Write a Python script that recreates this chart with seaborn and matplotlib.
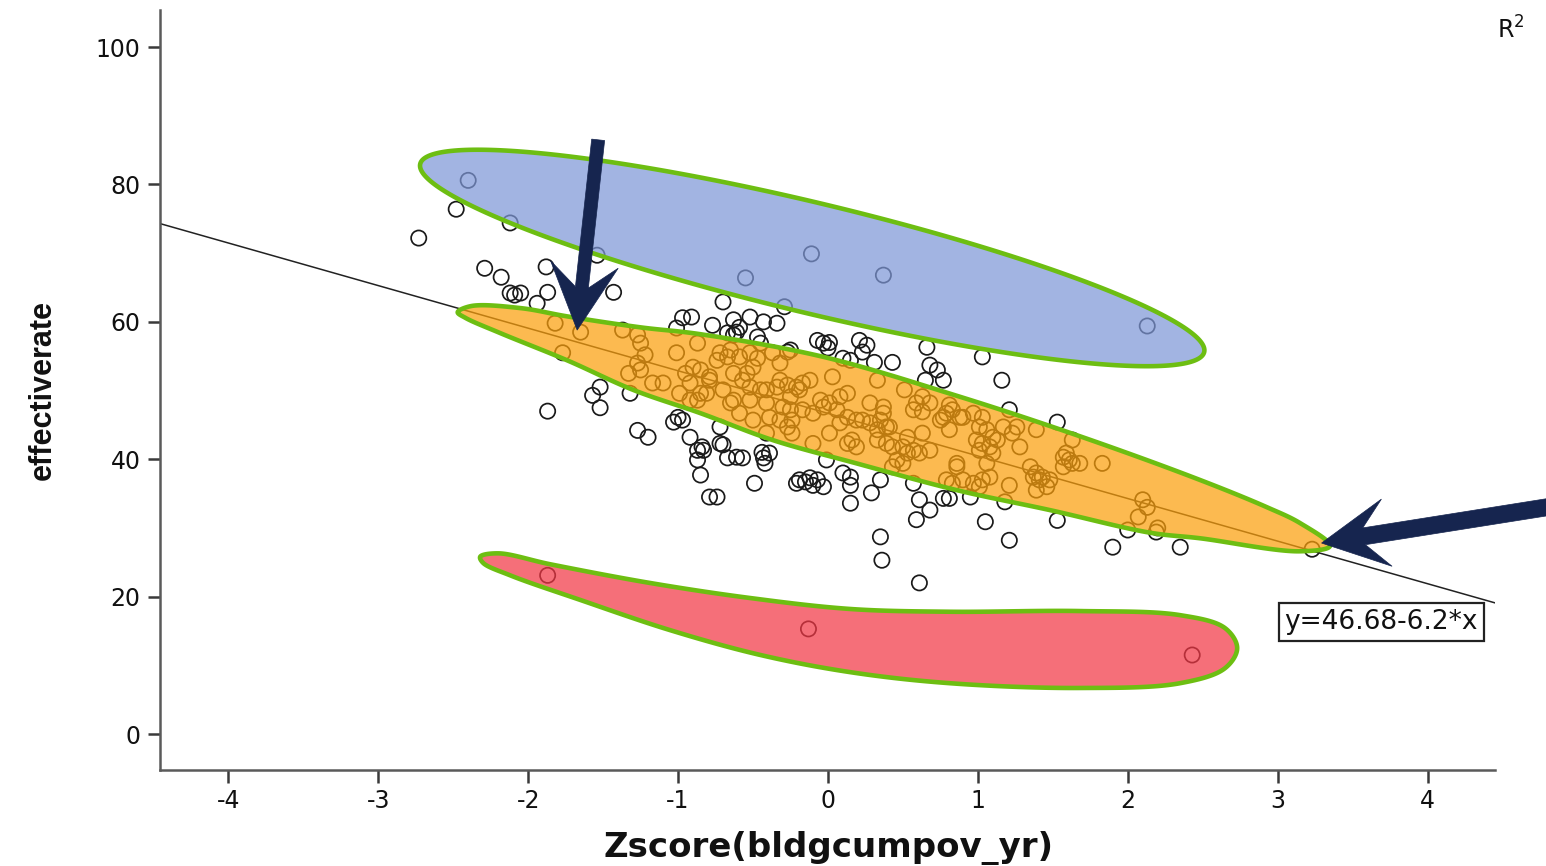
import numpy as np
import pandas as pd
import matplotlib
matplotlib.use("Agg")
import matplotlib.pyplot as plt
from matplotlib.patches import Polygon
import seaborn as sns

# ---------------- data ----------------
zscore = [
    # above the main cloud
    -2.73, -2.48, -2.29, -2.18, -1.88, -2.12, -2.09, -2.05, -1.87, -1.94, -1.43, -0.97,
    -1.01, -0.91, -0.77, -0.70, -0.63, -0.59, -0.52, -0.43, -0.34, -0.63, -0.61, -0.67,
    -0.47, -0.45, -0.27, -0.25, -0.07, -0.03, 0.01, 0.00, 0.21, 0.26, 0.23, 0.10,
    0.15, 0.31, 0.43, 0.66, 0.68, 0.73, 0.77, 0.65, 1.03, 1.16, 1.21, 1.53,
    # high outliers
    -2.40, -2.12, -1.54, -0.55, -0.11, 0.37, 2.13, -0.29,
    # below the main band
    -1.52, -1.57, -1.52, -1.87, -1.32, -1.27, -1.20, -1.00, -1.03, -0.97, -0.92, -0.87,
    -0.83, -0.87, -0.84, -0.85, -0.72, -0.70, -0.67, -0.61, -0.57, -0.44, -0.42, -0.43,
    -0.39, -0.49, -0.79, -0.74, -0.19, -0.15, -0.12, -0.07, -0.03, -0.10, -0.21, -0.01,
    0.10, 0.15, 0.15, 0.15, 0.29, 0.35, 0.57, 0.61, 0.68, 0.59, 0.77, 0.35,
    0.36, 0.61, 0.95, 0.81, 1.18, 1.05, 1.21, 1.53, 1.90, 2.35, 2.00, 2.19, 3.23,
    # low outliers
    -1.87, -0.13, 2.43,
    # main band
    -1.82, -1.65, -1.77, -1.37, -1.27, -1.25, -1.22, -1.27, -1.25, -1.33, -1.01, -1.17,
    -1.10, -0.95, -0.90, -0.92, -0.99, -0.92, -0.85, -0.79, -0.72, -0.65, -0.59, -0.63,
    -0.54, -0.50, -0.52, -0.70, -0.63, -0.45, -0.41, -0.32, -0.25, -0.30, -0.27, -0.41,
    -0.50, -0.59, -0.72, 0.03, 0.13, 0.28, 0.33, -0.19, -0.12, -0.24, -0.17, -0.10,
    -0.03, 0.06, 0.13, 0.19, -0.24, -0.10, 0.01, 0.13, 0.16, 0.19, 0.28, 0.35,
    0.39, 0.33, 0.39, 0.43, 0.50, 0.53, 0.57, 0.61, 0.68, 0.46, 0.50, 0.43,
    0.59, 0.57, 0.63, 0.51, 0.75, 0.79, 0.83, 0.88, 0.97, 1.03, 1.01, 0.99,
    1.03, 1.08, 1.13, 1.01, 1.10, 1.23, 1.26, 1.28, 1.39, 0.86, 0.79, 0.83,
    0.90, 0.97, 1.03, 1.01, 1.06, 1.21, 1.35, 1.37, 1.43, 1.41, 1.48, 1.46,
    1.39, 1.59, 1.61, 1.63, 1.68, 1.57, 1.63, 1.83, 2.10, 2.13, 2.07, 2.20,
    -0.87, -0.67, -0.74, -0.52, -0.47, -0.37, -0.32, -0.85, -0.79, -0.57, -0.41, -0.34,
    -0.27, -0.21, -0.17, -0.05, 0.01, 0.08, 0.37, 0.37, 0.63, 0.68, 0.77, 0.23,
    -0.25, -0.65, -0.52, -0.39, -0.32, 0.08, 0.33, 0.41, 0.53, 0.63, -0.81, -0.87,
    0.81, 0.90, 1.06, 1.10, 1.17, 0.86, 1.39, 1.57, 0.81, 1.08,
]
effectiverate = [
    72.2, 76.4, 67.8, 66.5, 68.0, 64.2, 63.9, 64.2, 64.3, 62.7, 64.3, 60.6,
    59.1, 60.7, 59.5, 62.9, 60.3, 59.2, 60.7, 60.0, 59.8, 58.1, 58.5, 58.4,
    57.8, 56.9, 55.6, 55.9, 57.3, 56.9, 57.0, 56.2, 57.3, 56.6, 55.6, 54.7,
    54.4, 54.1, 54.1, 56.3, 53.7, 53.0, 51.5, 51.5, 54.9, 51.5, 47.2, 45.4,
    80.6, 74.4, 69.7, 66.4, 69.9, 66.8, 59.4, 62.2,
    50.5, 49.3, 47.5, 47.0, 49.6, 44.2, 43.2, 46.1, 45.4, 45.7, 43.2, 41.3,
    41.3, 39.9, 41.8, 37.7, 42.3, 42.1, 40.2, 40.3, 40.2, 41.0, 39.4, 40.2,
    40.9, 36.5, 34.5, 34.5, 37.0, 36.7, 37.3, 37.0, 36.0, 36.2, 36.5, 39.9,
    38.0, 37.4, 36.2, 33.6, 35.1, 37.0, 36.5, 34.1, 32.6, 31.2, 34.3, 28.7,
    25.3, 22.0, 34.5, 34.3, 33.8, 30.9, 28.2, 31.1, 27.2, 27.2, 29.7, 29.4, 26.9,
    23.1, 15.3, 11.5,
    59.8, 58.5, 55.5, 58.8, 58.1, 56.9, 55.2, 54.0, 53.0, 52.5, 55.5, 51.1,
    51.1, 52.5, 53.4, 51.1, 49.6, 48.6, 49.6, 51.5, 55.5, 55.9, 54.9, 52.5,
    52.5, 53.4, 50.5, 50.1, 48.6, 50.1, 48.2, 51.5, 49.1, 47.6, 44.7, 43.8,
    45.7, 46.7, 44.7, 52.0, 49.6, 48.2, 51.5, 50.1, 51.5, 45.7, 47.2, 46.7,
    47.6, 47.2, 46.1, 45.7, 43.8, 42.3, 43.8, 42.3, 42.8, 41.8, 45.3, 45.7,
    44.7, 42.8, 42.3, 41.8, 41.8, 40.9, 41.3, 40.9, 41.3, 39.9, 39.4, 38.9,
    48.2, 47.2, 46.9, 50.1, 45.7, 46.7, 47.2, 46.1, 46.7, 46.1, 44.7, 42.8,
    42.3, 41.8, 42.8, 41.3, 40.9, 43.8, 44.7, 41.8, 44.3, 38.9, 37.0, 36.5,
    37.0, 36.5, 37.0, 36.0, 39.4, 36.2, 38.9, 37.4, 37.4, 37.0, 37.0, 36.0,
    35.5, 40.9, 39.9, 39.4, 39.4, 38.9, 42.8, 39.4, 34.1, 33.0, 31.6, 30.0,
    56.9, 54.9, 54.4, 55.5, 54.7, 55.5, 54.0, 53.0, 52.0, 51.5, 50.1, 50.5,
    50.8, 50.5, 51.1, 48.6, 48.2, 49.1, 47.6, 46.7, 49.1, 48.2, 46.1, 45.7,
    47.2, 48.2, 48.6, 46.1, 45.7, 45.3, 44.3, 44.7, 43.2, 43.8, 49.6, 48.6,
    47.9, 46.1, 44.3, 43.2, 44.7, 39.4, 38.0, 40.3, 44.3, 37.4,
]

fit_intercept = 46.68
fit_slope = -6.2
fit_label = "y=46.68-6.2*x"

x_ticks = [-4, -3, -2, -1, 0, 1, 2, 3, 4]
y_ticks = [0, 20, 40, 60, 80, 100]

# hand-drawn highlight outlines (data coordinates)
blue_end_left, blue_end_right = (-2.72, 83.0), (2.51, 55.6)
orange_x = [-2.47, -2.38, -2.05, -1.74, -1.25, -0.85, -0.03, 0.88, 1.70, 2.48, 2.93, 3.15,
            3.35, 3.15, 2.48, 2.15, 1.48, 0.86, 0.19, -0.37, -0.85, -1.30, -1.74, -2.19, -2.42]
orange_y = [61.4, 62.3, 62.0, 60.8, 59.2, 58.2, 54.9, 49.1, 43.2, 37.0, 33.0, 30.7,
            27.4, 26.6, 28.5, 29.3, 32.6, 35.5, 39.4, 42.8, 46.7, 50.1, 54.4, 58.4, 60.6]
red_x = [-2.32, -2.20, -1.85, -1.19, -0.52, 0.15, 0.81, 1.68, 2.35, 2.65, 2.73,
         2.65, 2.35, 1.68, 0.81, 0.15, -0.45, -1.05, -1.65, -2.12, -2.30]
red_y = [25.8, 26.3, 24.7, 22.0, 19.8, 18.2, 17.8, 17.9, 17.3, 15.4, 12.5,
         9.6, 7.4, 6.7, 7.4, 9.0, 11.5, 15.1, 19.5, 23.1, 24.9]

arrow1_start, arrow1_tip = (-1.533, 86.5), (-1.673, 58.8)
arrow2_start, arrow2_tip = (4.88, 33.3), (3.293, 27.8)

# ---------------- style ----------------
sns.set_style("ticks")
plt.rcParams["font.family"] = ["DejaVu Sans"]
plt.rcParams["axes.unicode_minus"] = False

W, H = 1546, 866
fig = plt.figure(figsize=(W / 100, H / 100), dpi=100)
fig.patch.set_facecolor("white")
ax = fig.add_axes([160 / W, 1 - 770 / H, (1495 - 160) / W, 760 / H])

df = pd.DataFrame({"Zscore(bldgcumpov_yr)": zscore, "effectiverate": effectiverate})
sns.scatterplot(data=df, x="Zscore(bldgcumpov_yr)", y="effectiverate", ax=ax,
                marker="o", s=120, color="#1a1a1a", linewidth=1.25, zorder=2)
ax.collections[0].set_facecolor("none")
ax.collections[0].set_edgecolor("#1a1a1a")

ax.set_xlim(-4.456, 4.45)
ax.set_ylim(-5.24, 105.4)
ax.axline((0, fit_intercept), slope=fit_slope, color="#222222", lw=1.1, zorder=2.5)

ax.set_xticks(x_ticks)
ax.set_yticks(y_ticks)
ax.set_xticklabels([str(v) for v in x_ticks])
ax.set_yticklabels([str(v) for v in y_ticks])
ax.tick_params(axis="both", length=9, width=1.8, color="#3a3a3a", labelsize=17,
               labelcolor="#111111", pad=5)
for side in ["top", "right"]:
    ax.spines[side].set_visible(False)
for side in ["left", "bottom"]:
    ax.spines[side].set_color("#5a5a5a")
    ax.spines[side].set_linewidth(1.8)

ax.set_xlabel("Zscore(bldgcumpov_yr)", fontsize=24.5, fontweight="bold", color="#111111")
ax.set_ylabel("effectiverate", fontsize=22, fontweight="bold", color="#111111",
              family=["Liberation Sans", "DejaVu Sans"])
ax.xaxis.set_label_coords(0.5004, -0.080)
ax.yaxis.set_label_coords(-0.0765, 0.5)

to_disp = ax.transData.transform
to_data = ax.transData.inverted().transform


# ---------------- highlight shapes ----------------
def centripetal_closed(pts_disp, n=40, a=0.5):
    P = np.asarray(pts_disp, float)
    m = len(P)
    out = []
    for i in range(m):
        p0, p1, p2, p3 = P[(i - 1) % m], P[i], P[(i + 1) % m], P[(i + 2) % m]
        t0 = 0.0
        t1 = t0 + np.linalg.norm(p1 - p0) ** a
        t2 = t1 + np.linalg.norm(p2 - p1) ** a
        t3 = t2 + np.linalg.norm(p3 - p2) ** a
        t = np.linspace(t1, t2, n, endpoint=False)[:, None]
        A1 = (t1 - t) / (t1 - t0) * p0 + (t - t0) / (t1 - t0) * p1
        A2 = (t2 - t) / (t2 - t1) * p1 + (t - t1) / (t2 - t1) * p2
        A3 = (t3 - t) / (t3 - t2) * p2 + (t - t2) / (t3 - t2) * p3
        B1 = (t2 - t) / (t2 - t0) * A1 + (t - t0) / (t2 - t0) * A2
        B2 = (t3 - t) / (t3 - t1) * A2 + (t - t1) / (t3 - t1) * A3
        out.append((t2 - t) / (t2 - t1) * B1 + (t - t1) / (t2 - t1) * B2)
    return np.vstack(out)


def ellipse_from_ends(e1, e2, half_minor_px, n=300):
    A, B = to_disp(e1), to_disp(e2)
    c = (A + B) / 2
    d = (B - A) / 2
    semi = np.hypot(*d)
    u = d / semi
    v = np.array([-u[1], u[0]])
    th = np.linspace(0, 2 * np.pi, n)
    pts = c + np.outer(np.cos(th) * semi, u) + np.outer(np.sin(th) * half_minor_px, v)
    return to_data(pts)


alpha = 0.72
green = "#6DBE12"
blue_c = (126 / 255, 151 / 255, 215 / 255)
orange_c = (252 / 255, 160 / 255, 12 / 255)
red_c = (242 / 255, 56 / 255, 70 / 255)

shape_pts = [
    (ellipse_from_ends(blue_end_left, blue_end_right, 55), blue_c),
    (to_data(centripetal_closed(to_disp(np.column_stack([orange_x, orange_y])))), orange_c),
    (to_data(centripetal_closed(to_disp(np.column_stack([red_x, red_y])))), red_c),
]
for pts, col in shape_pts:
    ax.add_patch(Polygon(pts, closed=True, facecolor=(*col, alpha),
                         edgecolor=green, linewidth=3.3, zorder=3, joinstyle="round"))


# ---------------- arrows ----------------
def arrow_poly(start, tip, shaft_w, head_len, head_half, notch):
    S = to_disp(start)
    T = to_disp(tip)
    d = (T - S) / np.hypot(*(T - S))
    nrm = np.array([-d[1], d[0]])
    pts = [T,
           T - head_len * d + head_half * nrm,
           T - notch * d + shaft_w / 2 * nrm,
           S + shaft_w / 2 * nrm,
           S - shaft_w / 2 * nrm,
           T - notch * d - shaft_w / 2 * nrm,
           T - head_len * d - head_half * nrm]
    return to_data(np.array(pts))


navy = "#16254F"
for st, tp, sw in [(arrow1_start, arrow1_tip, 13), (arrow2_start, arrow2_tip, 17)]:
    ax.add_patch(Polygon(arrow_poly(st, tp, sw, 66, 34, 43), closed=True,
                         facecolor=navy, edgecolor=navy, linewidth=0.5,
                         zorder=5, clip_on=False))

# ---------------- equation box & R^2 ----------------
ax.text(3.69, 16.3, fit_label, fontsize=19, color="#111111", ha="center", va="center",
        zorder=6, bbox=dict(boxstyle="square,pad=0.22", facecolor="white",
                            edgecolor="#222222", linewidth=1.6))
fig.text(1497 / W, 1 - 30 / H, "R$^2$", fontsize=17, color="#111111",
         ha="left", va="center")

fig.savefig("out.png", dpi=100, facecolor="white")
